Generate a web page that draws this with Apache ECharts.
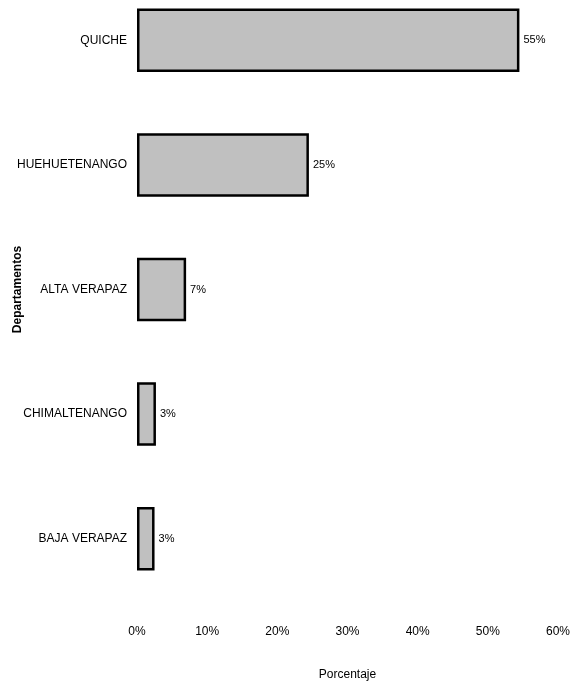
<!DOCTYPE html>
<html>
<head>
<meta charset="utf-8">
<script src="https://cdn.jsdelivr.net/npm/echarts@6/dist/echarts.min.js"></script>
<style>html,body{margin:0;padding:0;background:#fff;}#c{width:573px;height:686px;}</style>
</head>
<body>
<div id="c"></div>
<script>
var categories = ['QUICHE', 'HUEHUETENANGO', 'ALTA VERAPAZ', 'CHIMALTENANGO', 'BAJA VERAPAZ'];
var values = [54.5, 24.5, 7, 2.7, 2.5];
var xTicks = [0, 10, 20, 30, 40, 50, 60];
var xAxisTitle = 'Porcentaje';
var yAxisTitle = 'Departamentos';

var font = "'Liberation Sans Narrow', 'Liberation Sans', Arial, sans-serif";
var chart = echarts.init(document.getElementById('c'));
chart.setOption({
  animation: false,
  grid: { left: 137, right: 15, top: -22, height: 623, containLabel: false, outerBoundsMode: 'none' },
  xAxis: {
    type: 'value',
    min: xTicks[0],
    max: xTicks[xTicks.length - 1],
    interval: 10,
    axisLine: { show: false },
    axisTick: { show: false },
    splitLine: { show: false },
    axisLabel: { formatter: '{value}%', color: '#000', fontFamily: font, fontSize: 12, margin: 25 },
    name: xAxisTitle,
    nameLocation: 'middle',
    nameGap: 68,
    nameMoveOverlap: false,
    nameTextStyle: { color: '#000', fontFamily: font, fontSize: 12 }
  },
  yAxis: {
    type: 'category',
    inverse: true,
    data: categories,
    axisLine: { show: false },
    axisTick: { show: false },
    axisLabel: { color: '#000', fontFamily: font, fontSize: 12, margin: 10 },
    name: yAxisTitle,
    nameLocation: 'middle',
    nameRotate: 90,
    nameGap: 113,
    nameMoveOverlap: false,
    nameTextStyle: { color: '#000', fontFamily: "'Liberation Sans', Arial, sans-serif", fontSize: 12, fontWeight: 'bold' }
  },
  series: [{
    type: 'bar',
    data: values,
    barCategoryGap: '49%',
    itemStyle: { color: '#C0C0C0', borderColor: '#000', borderWidth: 2.5 },
    label: {
      show: true,
      position: 'right',
      distance: 4,
      color: '#000',
      fontFamily: font,
      fontSize: 11,
      formatter: function (p) { return Math.round(p.value) + '%'; }
    }
  }]
});
</script>
</body>
</html>
